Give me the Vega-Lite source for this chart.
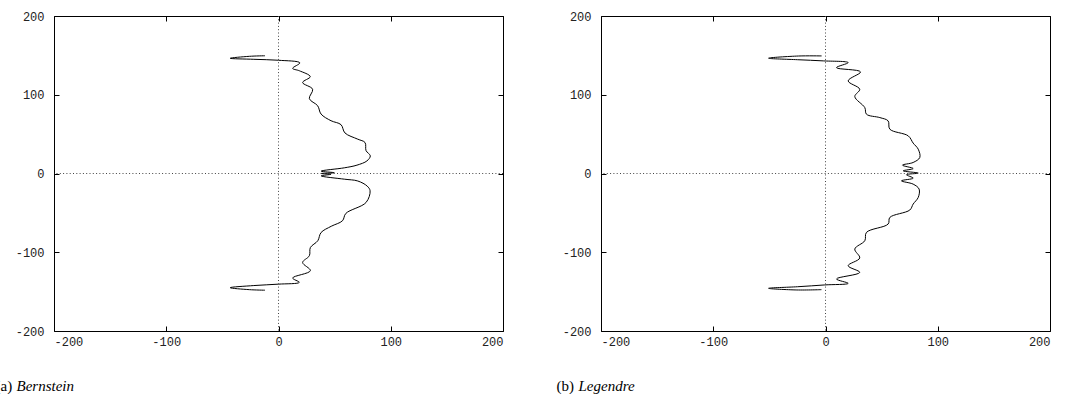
{
  "$schema": "https://vega.github.io/schema/vega-lite/v6.json",
  "padding": {"left": -6, "top": 9, "right": 0, "bottom": 0},
  "spacing": 98,
  "bounds": "flush",
  "background": "white",
  "datasets": {
    "bern": [
      {"i": 1, "x": -12, "y": 149.5}, {"i": 2, "x": -26, "y": 148.8}, {"i": 3, "x": -43, "y": 146.3}, {"i": 4, "x": -22, "y": 145},
      {"i": 5, "x": 0, "y": 143.8}, {"i": 6, "x": 19, "y": 140.5}, {"i": 7, "x": 12.6, "y": 133.5}, {"i": 8, "x": 18.5, "y": 130.5},
      {"i": 9, "x": 28.3, "y": 123}, {"i": 10, "x": 21.5, "y": 115.5}, {"i": 11, "x": 30.4, "y": 107}, {"i": 12, "x": 27.5, "y": 95},
      {"i": 13, "x": 34.9, "y": 86}, {"i": 14, "x": 37.9, "y": 75.5}, {"i": 15, "x": 46.8, "y": 67}, {"i": 16, "x": 55.7, "y": 62},
      {"i": 17, "x": 59.2, "y": 51.5}, {"i": 18, "x": 70.6, "y": 43.6}, {"i": 19, "x": 77.1, "y": 39.3}, {"i": 20, "x": 78, "y": 29},
      {"i": 21, "x": 81.8, "y": 22.4}, {"i": 22, "x": 78.8, "y": 16}, {"i": 23, "x": 69.9, "y": 10.6}, {"i": 24, "x": 58.6, "y": 7.2},
      {"i": 25, "x": 38, "y": 3}, {"i": 26, "x": 49.7, "y": 1}, {"i": 27, "x": 38, "y": 0}, {"i": 28, "x": 46.8, "y": -1},
      {"i": 29, "x": 38, "y": -3}, {"i": 30, "x": 58.6, "y": -7.2}, {"i": 31, "x": 70.6, "y": -9.5}, {"i": 32, "x": 79, "y": -16},
      {"i": 33, "x": 81.6, "y": -22}, {"i": 34, "x": 78, "y": -36.8}, {"i": 35, "x": 60, "y": -50.7}, {"i": 36, "x": 57, "y": -60},
      {"i": 37, "x": 47, "y": -67}, {"i": 38, "x": 37.9, "y": -75}, {"i": 39, "x": 35, "y": -85.4}, {"i": 40, "x": 28.4, "y": -94},
      {"i": 41, "x": 27.5, "y": -104.4}, {"i": 42, "x": 21.5, "y": -113}, {"i": 43, "x": 28.4, "y": -123.4}, {"i": 44, "x": 12.6, "y": -132.7},
      {"i": 45, "x": 18.5, "y": -138.2}, {"i": 46, "x": 0, "y": -140.5}, {"i": 47, "x": -22, "y": -142.3}, {"i": 48, "x": -43, "y": -145},
      {"i": 49, "x": -26, "y": -147.5}, {"i": 50, "x": -12, "y": -148.2}
    ],
    "leg": [
      {"i": 1, "x": -3.5, "y": 149.3}, {"i": 2, "x": -24, "y": 149.2}, {"i": 3, "x": -50.7, "y": 146.4}, {"i": 4, "x": -25, "y": 144.5},
      {"i": 5, "x": -2, "y": 143}, {"i": 6, "x": 20.2, "y": 140.8}, {"i": 7, "x": 9.8, "y": 134.4}, {"i": 8, "x": 31.2, "y": 129},
      {"i": 9, "x": 20.2, "y": 117.6}, {"i": 10, "x": 30.5, "y": 107}, {"i": 11, "x": 26.1, "y": 97.7}, {"i": 12, "x": 35, "y": 83.7},
      {"i": 13, "x": 36.5, "y": 75.3}, {"i": 14, "x": 48.4, "y": 71}, {"i": 15, "x": 55.8, "y": 66.8}, {"i": 16, "x": 57.3, "y": 56.3},
      {"i": 17, "x": 73.7, "y": 47.8}, {"i": 18, "x": 78.1, "y": 38.6}, {"i": 19, "x": 82.6, "y": 30.9}, {"i": 20, "x": 84, "y": 20.3},
      {"i": 21, "x": 78.1, "y": 14}, {"i": 22, "x": 68.6, "y": 10.6}, {"i": 23, "x": 78.1, "y": 6.3}, {"i": 24, "x": 69.2, "y": 3.4},
      {"i": 25, "x": 82.6, "y": 0.5}, {"i": 26, "x": 72.2, "y": -1.6}, {"i": 27, "x": 78.1, "y": -5.9}, {"i": 28, "x": 67.7, "y": -9.3},
      {"i": 29, "x": 78.1, "y": -13.5}, {"i": 30, "x": 83.4, "y": -19.8}, {"i": 31, "x": 82.6, "y": -30.4}, {"i": 32, "x": 78.1, "y": -38.8},
      {"i": 33, "x": 75.1, "y": -46.4}, {"i": 34, "x": 57.3, "y": -55.8}, {"i": 35, "x": 55.8, "y": -64.2}, {"i": 36, "x": 36.5, "y": -74.8},
      {"i": 37, "x": 35, "y": -85.4}, {"i": 38, "x": 26.1, "y": -95.9}, {"i": 39, "x": 30.5, "y": -107.3}, {"i": 40, "x": 20.2, "y": -117.1},
      {"i": 41, "x": 30.5, "y": -125.6}, {"i": 42, "x": 9.8, "y": -133.9}, {"i": 43, "x": 20.2, "y": -139.5}, {"i": 44, "x": -0.6, "y": -141.5},
      {"i": 45, "x": -25, "y": -143.8}, {"i": 46, "x": -50.7, "y": -145.8}, {"i": 47, "x": -25.5, "y": -147.9}, {"i": 48, "x": -3.6, "y": -147.5}
    ]
  },
  "config": {
    "view": {"stroke": "black", "strokeWidth": 1},
    "axis": {
      "grid": false, "domain": false, "tickColor": "black", "tickSize": -5, "tickWidth": 1,
      "labelFont": "Liberation Mono", "labelFontSize": 12, "labelColor": "#222",
      "titleFont": "Liberation Serif", "titleFontSize": 15, "titleFontWeight": "normal", "titleColor": "black",
      "titleAlign": "left", "titleBaseline": "alphabetic", "titleAngle": 0,
      "labelExpr": "'' + datum.value"
    },
    "axisX": {"labelPadding": 10, "labelAngle": 0},
    "axisY": {"labelPadding": 15}
  },
  "hconcat": [
    {
      "width": 449, "height": 315,
      "layer": [
        {
          "data": {"name": "bern"},
          "mark": {"type": "line", "color": "black", "strokeWidth": 1, "interpolate": "catmull-rom"},
          "encoding": {
            "x": {"field": "x", "type": "quantitative", "scale": {"domain": [-200, 200], "nice": false, "zero": false},
                  "axis": {"orient": "bottom", "values": [-200, -100, 0, 100, 200], "title": "Bernstein", "titleFontStyle": "italic", "titleX": -38, "titleY": 59}},
            "y": {"field": "y", "type": "quantitative", "scale": {"domain": [-200, 200], "nice": false, "zero": false},
                  "axis": {"orient": "left", "values": [-200, -100, 0, 100, 200], "title": "(a)", "titleX": -59, "titleY": 374}},
            "order": {"field": "i"}
          }
        },
        {
          "data": {"values": [{}]},
          "mark": {"type": "rule", "color": "#444", "strokeDash": [1, 2.3], "strokeWidth": 1},
          "encoding": {"x": {"datum": 0, "type": "quantitative", "axis": {"orient": "top", "values": [-200, -100, 0, 100, 200], "labels": false, "title": null}}}
        },
        {
          "data": {"values": [{}]},
          "mark": {"type": "rule", "color": "#444", "strokeDash": [1, 2.3], "strokeWidth": 1},
          "encoding": {"y": {"datum": 0, "type": "quantitative", "axis": {"orient": "right", "values": [-200, -100, 0, 100, 200], "labels": false, "title": null}}}
        }
      ],
      "resolve": {"axis": {"x": "independent", "y": "independent"}}
    },
    {
      "width": 449, "height": 315,
      "layer": [
        {
          "data": {"name": "leg"},
          "mark": {"type": "line", "color": "black", "strokeWidth": 1, "interpolate": "catmull-rom"},
          "encoding": {
            "x": {"field": "x", "type": "quantitative", "scale": {"domain": [-200, 200], "nice": false, "zero": false},
                  "axis": {"orient": "bottom", "values": [-200, -100, 0, 100, 200], "title": "Legendre", "titleFontStyle": "italic", "titleX": -23, "titleY": 59}},
            "y": {"field": "y", "type": "quantitative", "scale": {"domain": [-200, 200], "nice": false, "zero": false},
                  "axis": {"orient": "left", "values": [-200, -100, 0, 100, 200], "title": "(b)", "titleX": -45, "titleY": 374}},
            "order": {"field": "i"}
          }
        },
        {
          "data": {"values": [{}]},
          "mark": {"type": "rule", "color": "#444", "strokeDash": [1, 2.3], "strokeWidth": 1},
          "encoding": {"x": {"datum": 0, "type": "quantitative", "axis": {"orient": "top", "values": [-200, -100, 0, 100, 200], "labels": false, "title": null}}}
        },
        {
          "data": {"values": [{}]},
          "mark": {"type": "rule", "color": "#444", "strokeDash": [1, 2.3], "strokeWidth": 1},
          "encoding": {"y": {"datum": 0, "type": "quantitative", "axis": {"orient": "right", "values": [-200, -100, 0, 100, 200], "labels": false, "title": null}}}
        }
      ],
      "resolve": {"axis": {"x": "independent", "y": "independent"}}
    }
  ]
}
